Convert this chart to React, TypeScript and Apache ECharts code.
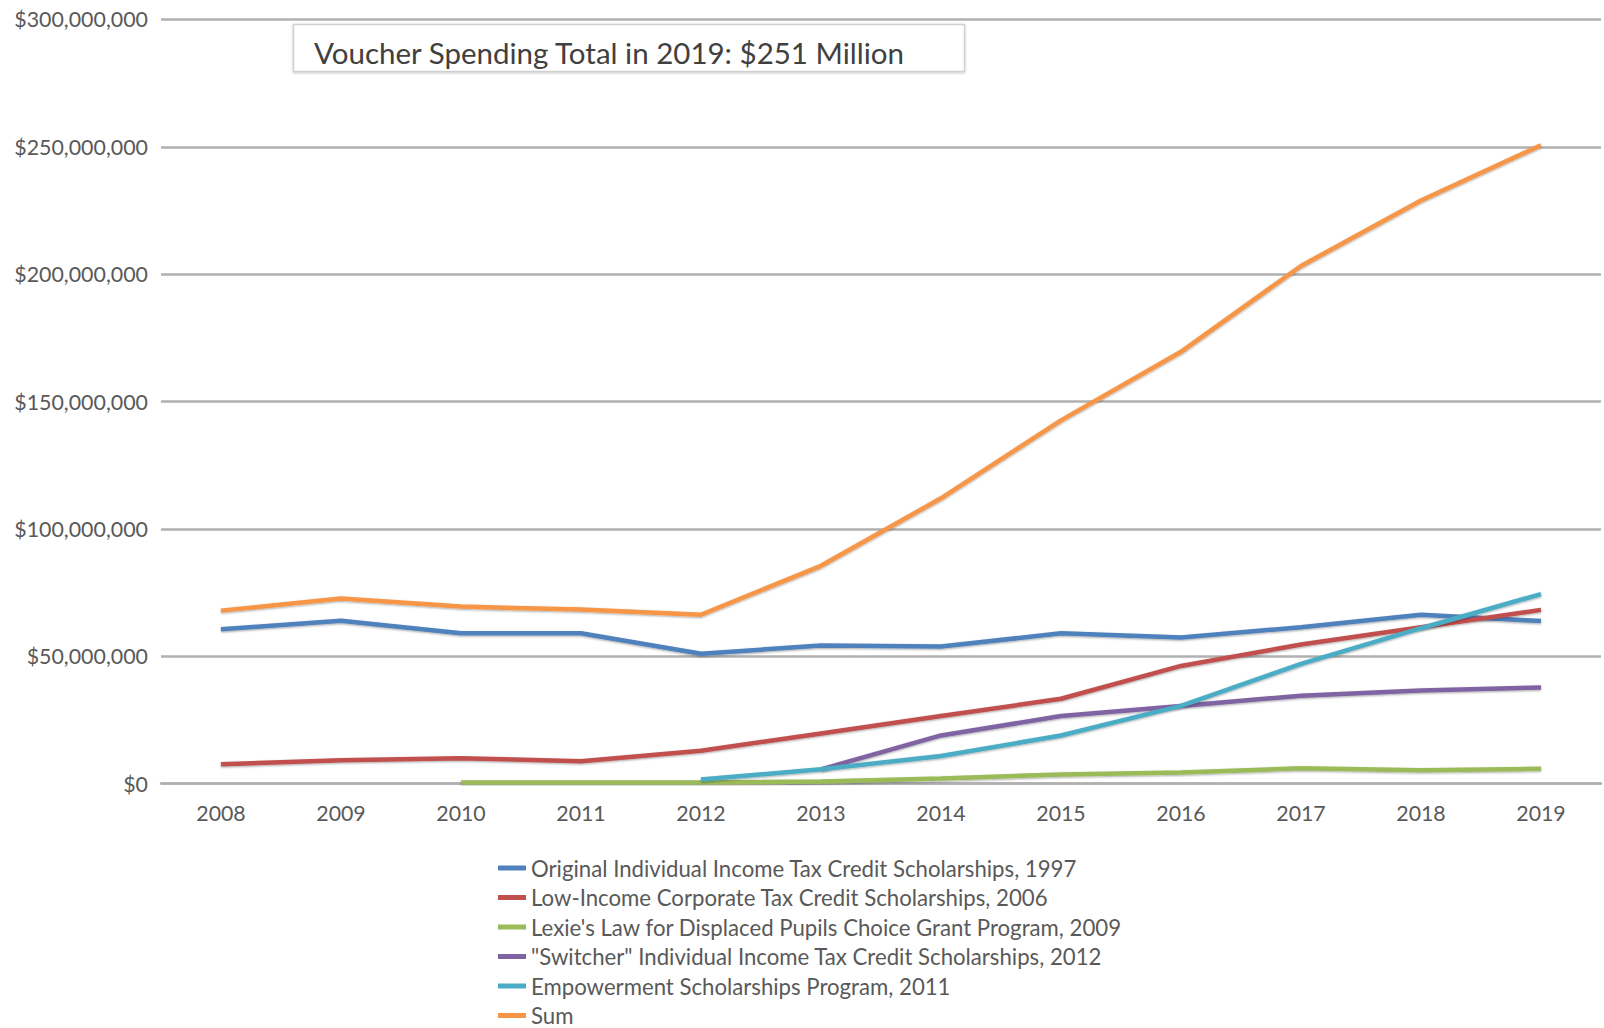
import React, { useEffect, useRef } from "react";
import * as echarts from "echarts";

const years = ["2008", "2009", "2010", "2011", "2012", "2013", "2014", "2015", "2016", "2017", "2018", "2019"];

const seriesNames = [
  "Original Individual Income Tax Credit Scholarships, 1997",
  "Low-Income Corporate Tax Credit Scholarships, 2006",
  "Lexie's Law for Displaced Pupils Choice Grant Program, 2009",
  "\"Switcher\" Individual Income Tax Credit Scholarships, 2012",
  "Empowerment Scholarships Program, 2011",
  "Sum",
];

const original = [60.6, 63.9, 59.0, 59.0, 51.0, 54.2, 53.8, 59.0, 57.4, 61.4, 66.3, 63.8];
const lowIncome = [7.6, 9.2, 10.0, 8.8, 12.9, 19.7, 26.5, 33.3, 46.2, 54.6, 61.4, 68.2];
const lexie = [null, null, 0.4, 0.4, 0.4, 0.8, 2.0, 3.6, 4.4, 6.0, 5.2, 5.8];
const switcher = [null, null, null, null, null, 5.6, 18.9, 26.5, 30.5, 34.5, 36.5, 37.7];
const empowerment = [null, null, null, null, 1.6, 5.6, 10.8, 18.9, 30.5, 47.0, 61.0, 74.4];
const sum = [67.9, 72.7, 69.5, 68.3, 66.3, 85.5, 112.0, 142.6, 169.5, 203.2, 228.9, 250.6];

const colors = ["#4F81BD", "#C0504D", "#9BBB59", "#8064A2", "#4BACC6", "#F79646"];

const titleText = "Voucher Spending Total in 2019: $251 Million";

const FONT = "Lato";

function toDollars(arr: (number | null)[]) {
  return arr.map((v) => (v === null ? null : Math.round(v * 1e6)));
}

function fmt(v: number) {
  return "$" + Math.round(v).toString().replace(/\B(?=(\d{3})+(?!\d))/g, ",");
}

export default function App() {
  const ref = useRef<HTMLDivElement>(null);
  useEffect(() => {
    if (!ref.current) return;
    const chart = echarts.init(ref.current, null, { renderer: "svg" });
    const all = [original, lowIncome, lexie, switcher, empowerment, sum];
    chart.setOption({
      animation: false,
      backgroundColor: "#ffffff",
      color: colors,
      grid: { left: 161, right: 3, top: 19.4, bottom: 244.4, containLabel: false },
      xAxis: {
        type: "category",
        data: years,
        boundaryGap: true,
        axisLine: { lineStyle: { color: "#b0b0b0", width: 2.5 } },
        axisTick: { show: false },
        axisLabel: { color: "#595959", fontFamily: FONT, fontSize: 21.3, margin: 19 },
        splitLine: { show: false },
      },
      yAxis: {
        type: "value",
        min: 0,
        max: 300000000,
        interval: 50000000,
        axisLine: { show: false },
        axisTick: { show: false },
        axisLabel: {
          color: "#595959",
          fontFamily: FONT,
          fontSize: 21.4,
          margin: 13,
          formatter: (v: number) => fmt(v),
        },
        splitLine: { lineStyle: { color: "#b0b0b0", width: 2.5 } },
      },
      legend: {
        orient: "vertical",
        left: 498,
        top: 857,
        icon: "rect",
        itemWidth: 28,
        itemHeight: 5,
        itemGap: 7.5,
        padding: 0,
        textStyle: { color: "#595959", fontFamily: FONT, fontSize: 22.2, lineHeight: 22 },
        data: seriesNames,
      },
      series: all.map((arr, i) => ({
        name: seriesNames[i],
        type: "line",
        data: toDollars(arr),
        showSymbol: false,
        symbol: "none",
        connectNulls: false,
        lineStyle: {
          width: 4.5,
          color: colors[i],
          shadowColor: "rgba(0,0,0,0.35)",
          shadowBlur: 2,
          shadowOffsetY: 1,
        },
        itemStyle: { color: colors[i] },
        z: 2 + i,
      })),
      graphic: [
        {
          type: "rect",
          shape: { x: 293.5, y: 24.5, width: 671, height: 47 },
          style: {
            fill: "#ffffff",
            stroke: "#d0d0d0",
            lineWidth: 1.5,
            shadowColor: "rgba(0,0,0,0.25)",
            shadowBlur: 2,
            shadowOffsetY: 1,
          },
          z: 100,
        },
        {
          type: "text",
          x: 314,
          y: 52,
          style: {
            text: titleText,
            fill: "#404040",
            font: `29.5px ${FONT}`,
            verticalAlign: "middle",
          },
          z: 101,
        },
      ],
    });
    return () => chart.dispose();
  }, []);
  return <div ref={ref} style={{ width: 1604, height: 1028, position: "absolute", left: 0, top: 0 }} />;
}
